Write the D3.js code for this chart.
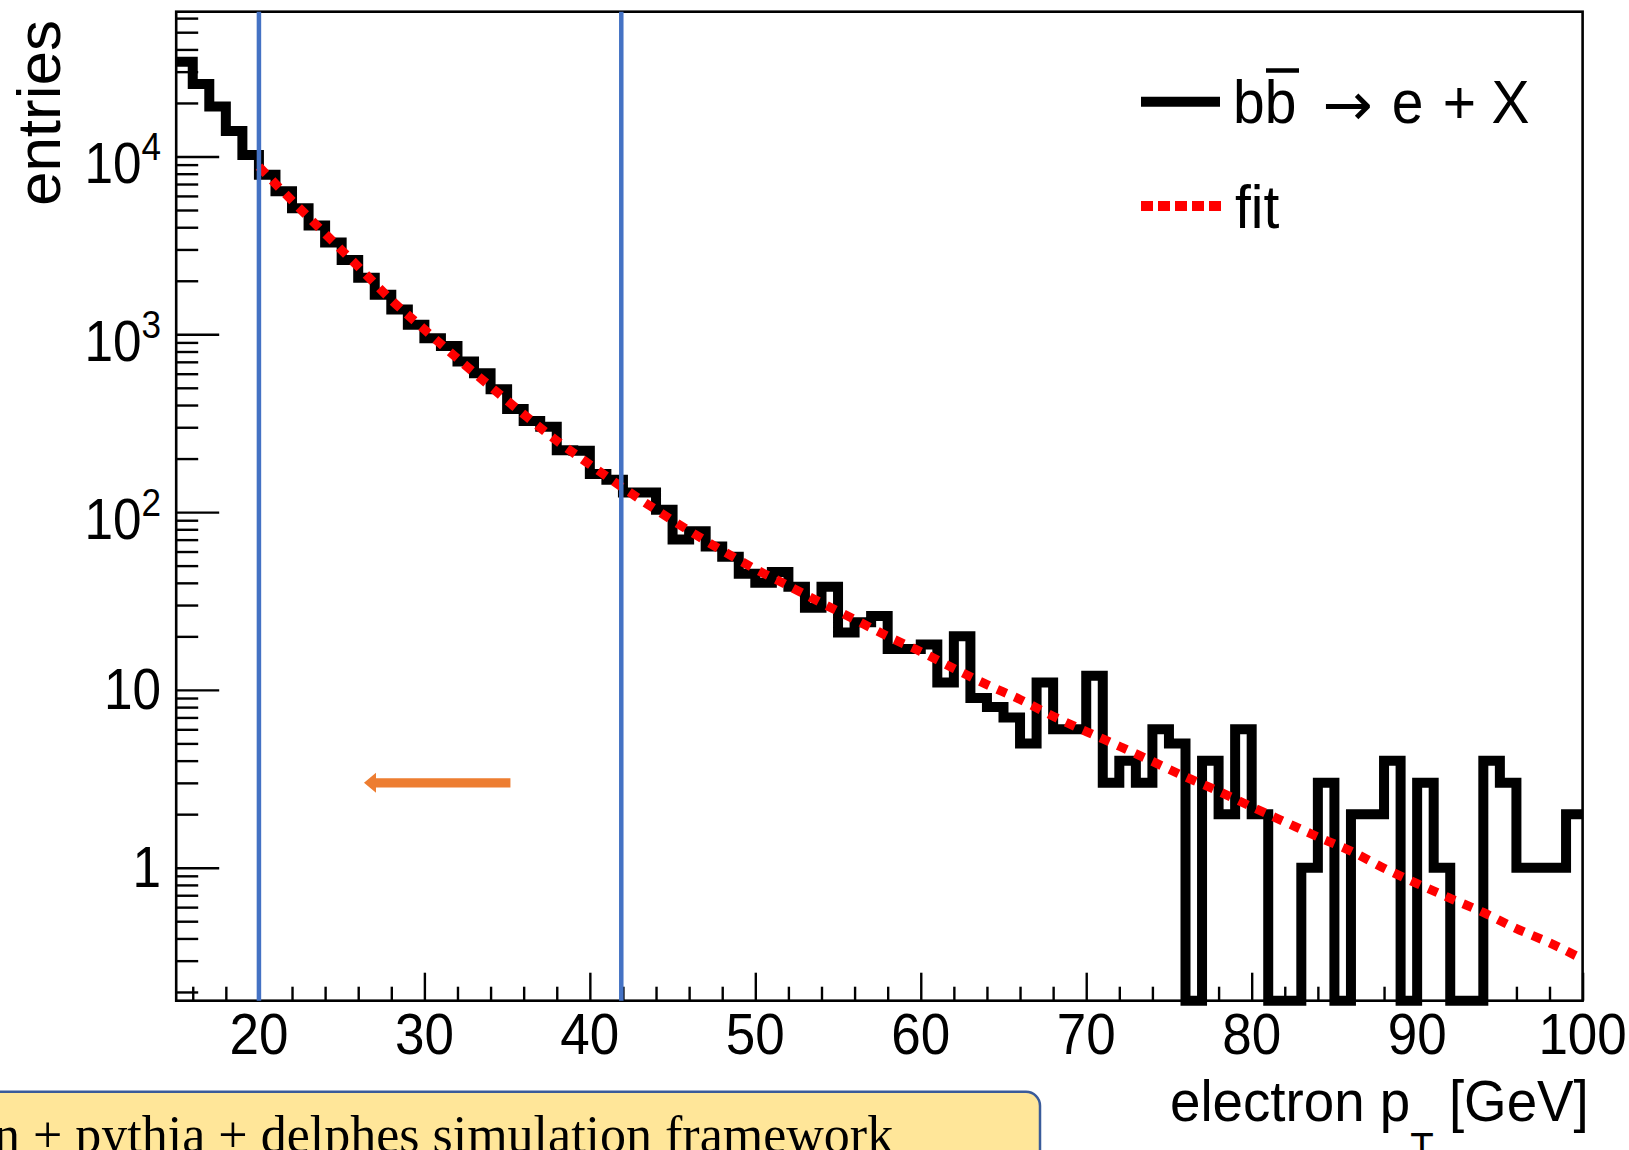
<!DOCTYPE html>
<html><head><meta charset="utf-8">
<script src="https://cdn.jsdelivr.net/npm/d3@7"></script>
<style>
html,body{margin:0;padding:0;background:#fff;}
svg{display:block;}
text{font-family:"Liberation Sans",Arial,sans-serif;fill:#000;}
</style></head>
<body>
<svg id="chart" width="1629" height="1150"></svg>
<script>
// ---------------- data ----------------
const binLowEdges = [15,16,17,18,19,20,21,22,23,24,25,26,27,28,29,30,31,32,33,34,35,36,37,38,39,40,41,42,43,44,45,46,47,48,49,50,51,52,53,54,55,56,57,58,59,60,61,62,63,64,65,66,67,68,69,70,71,72,73,74,75,76,77,78,79,80,81,82,83,84,85,86,87,88,89,90,91,92,93,94,95,96,97,98,99];
const binWidth = 1;
const binEntries = [34100,25600,19100,13900,10200,7900,6370,5110,4090,3280,2620,2080,1670,1380,1130,950,860,702,604,491,380,325,302,223,221,164,152,129,129,103,70,78,64,56,45,40,46,38,29,38,21,24,26,17,17,18,11,20,9,8,7,5,11,6,6,12,3,4,3,6,5,0,4,2,6,2,0,0,1,3,0,2,2,4,0,3,1,0,0,4,3,1,1,1,2];
const fitPt = [20,22,24,26,28,30,32,34,36,38,40,42,44,46,48,50,52,54,56,58,60,62,64,66,68,70,72,74,76,78,80,82,84,86,88,90,92,94,96,98,100];
const fitEntries = [8770,5640,3680,2400,1560,1064,731,507,355,252,185,137,103,78.5,60.8,47.8,38.5,30.8,24.9,20.0,16.4,13.2,10.7,8.83,7.11,5.83,4.82,3.96,3.24,2.69,2.20,1.81,1.49,1.24,0.993,0.813,0.673,0.560,0.454,0.378,0.306];
const cutLines = [20, 41.9];
const arrowFrom = [35.2, 3];
const arrowTo = [26.35, 3];
const xMajorTicks = [20,30,40,50,60,70,80,90,100];
const xMajorLabels = ["20","30","40","50","60","70","80","90","100"];
const xMinorTicks = [16,18,22,24,26,28,32,34,36,38,42,44,46,48,52,54,56,58,62,64,66,68,72,74,76,78,82,84,86,88,92,94,96,98];
const yMajorTicks = [1,10,100,1000,10000];
const yMajorBase = ["1","10","10","10","10"];
const yMajorExp = ["","","2","3","4"];
const yMinorTicks = [0.2,0.3,0.4,0.5,0.6,0.7,0.8,0.9,2,3,4,5,6,7,8,9,20,30,40,50,60,70,80,90,200,300,400,500,600,700,800,900,2000,3000,4000,5000,6000,7000,8000,9000,20000,30000,40000,50000,60000];
const xDomain = [15, 100];
const yDomain = [0.1786, 65200];
const yTitle = "entries";
const legendHistTokens = ["bb", "\u2192", "e", "+", "X"];
const legendFitText = "fit";
const boxText = "n + pythia + delphes simulation framework";

// ---------------- layout ----------------
const L = 176.2, R = 1582.6, T = 11.7, B = 1000.7;
const svg = d3.select("#chart");
const x = d3.scaleLinear().domain(xDomain).range([L, R]);
const y = d3.scaleLog().domain(yDomain).range([B, T]);
const yv = v => v > 0 ? y(v) : B;

function stext(g, px, py, str, size, anchor, sx) {
  return g.append("text")
    .attr("transform", `translate(${px},${py}) scale(${sx},1)`)
    .attr("text-anchor", anchor)
    .style("font-size", size + "px")
    .text(str);
}

// axes ticks
function styleAxis(g) {
  g.select(".domain").remove();
  g.selectAll("line").attr("stroke", "#000").attr("stroke-width", 2.4);
  g.selectAll("text").remove();
}
svg.append("g").attr("transform", `translate(${L},0)`)
  .call(d3.axisLeft(y).tickValues(yMinorTicks).tickSizeInner(-22).tickSizeOuter(0).tickFormat(""))
  .call(styleAxis);
svg.append("g").attr("transform", `translate(${L},0)`)
  .call(d3.axisLeft(y).tickValues(yMajorTicks).tickSizeInner(-43).tickSizeOuter(0).tickFormat(""))
  .call(styleAxis);
svg.append("g").attr("transform", `translate(0,${B})`)
  .call(d3.axisBottom(x).tickValues(xMinorTicks).tickSizeInner(-14).tickSizeOuter(0).tickFormat(""))
  .call(styleAxis);
svg.append("g").attr("transform", `translate(0,${B})`)
  .call(d3.axisBottom(x).tickValues(xMajorTicks).tickSizeInner(-28).tickSizeOuter(0).tickFormat(""))
  .call(styleAxis);

// frame
svg.append("rect").attr("x", L).attr("y", T).attr("width", R - L).attr("height", B - T)
  .attr("fill", "none").attr("stroke", "#000").attr("stroke-width", 2.6);

// histogram
const histPts = binLowEdges.map((lo, i) => [lo, binEntries[i]]);
histPts.push([binLowEdges[binLowEdges.length - 1] + binWidth, binEntries[binEntries.length - 1]]);
const histLine = d3.line().x(d => x(d[0])).y(d => yv(d[1])).curve(d3.curveStepAfter);
svg.append("path").attr("d", histLine(histPts))
  .attr("fill", "none").attr("stroke", "#000").attr("stroke-width", 10)
  .attr("stroke-linejoin", "miter").attr("stroke-linecap", "butt");

// fit
const fitLine = d3.line().x(d => x(d[0])).y(d => y(d[1])).curve(d3.curveMonotoneX);
svg.append("path").attr("d", fitLine(fitPt.map((p, i) => [p, fitEntries[i]])))
  .attr("fill", "none").attr("stroke", "#ff0000").attr("stroke-width", 9)
  .attr("stroke-dasharray", "10 9").attr("stroke-linecap", "butt");

// y labels
const gy = svg.append("g");
yMajorTicks.forEach((v, i) => {
  const ty = y(v);
  const t = gy.append("text")
    .attr("transform", `translate(161,${yMajorExp[i] ? ty + 27 : ty + 19}) scale(0.9,1)`)
    .attr("text-anchor", "end").style("font-size", "57px");
  t.append("tspan").text(yMajorBase[i]);
  if (yMajorExp[i]) t.append("tspan").attr("dy", -23).style("font-size", "39px").text(yMajorExp[i]);
});
// x labels
xMajorTicks.forEach((v, i) => stext(svg, x(v), 1054, xMajorLabels[i], 57, "middle", 0.93));

// titles
svg.append("text").attr("transform", "translate(60,20) rotate(-90)")
  .attr("text-anchor", "end").style("font-size", "62px").text(yTitle);
const xt = svg.append("text").attr("transform", "translate(1170,1121) scale(0.96,1)")
  .style("font-size", "57px");
xt.append("tspan").text("electron p");
xt.append("tspan").attr("dy", 40).style("font-size", "40px").text("T");
xt.append("tspan").attr("dy", -40).text(" [GeV]");

// legend
const lg = svg.append("g");
lg.append("line").attr("x1", 1141).attr("x2", 1220).attr("y1", 101.7).attr("y2", 101.7)
  .attr("stroke", "#000").attr("stroke-width", 10);
lg.append("line").attr("x1", 1141).attr("x2", 1221).attr("y1", 206).attr("y2", 206)
  .attr("stroke", "#ff0000").attr("stroke-width", 10).attr("stroke-dasharray", "12 5");
const tokX = [1233, 1348, 1391.7, 1459.5, 1491.5];
const tokA = ["start", "middle", "start", "middle", "start"];
legendHistTokens.forEach((s, i) => {
  const t = stext(lg, tokX[i], 123, s, 62, tokA[i], 0.92);
  if (s === "\u2192") t.style("font-family", "'DejaVu Sans',sans-serif").style("font-size", "60px")
    .attr("transform", `translate(${tokX[i]},125) scale(1,1)`);
});
lg.append("line").attr("x1", 1266).attr("x2", 1299).attr("y1", 70.5).attr("y2", 70.5)
  .attr("stroke", "#000").attr("stroke-width", 4.5);
stext(lg, 1235, 228, legendFitText, 62, "start", 0.92);

// cut lines (slide overlay)
cutLines.forEach(v => svg.append("line").attr("x1", x(v)).attr("x2", x(v)).attr("y1", T).attr("y2", B)
  .attr("stroke", "#4472c4").attr("stroke-width", 4.5));

// orange arrow
{
  const x0 = x(arrowFrom[0]), x1 = x(arrowTo[0]), ya = y(arrowTo[1]);
  const hl = 12, hw = 10, sw = 4.6;
  svg.append("path")
    .attr("d", `M${x1},${ya} L${x1 + hl},${ya - hw} L${x1 + hl},${ya - sw} L${x0},${ya - sw} L${x0},${ya + sw} L${x1 + hl},${ya + sw} L${x1 + hl},${ya + hw} Z`)
    .attr("fill", "#ed7d31");
}

// bottom text box (slide overlay)
svg.append("rect").attr("x", -30).attr("y", 1091.7).attr("width", 1070).attr("height", 120).attr("rx", 14)
  .attr("fill", "#ffe699").attr("stroke", "#3a5b9a").attr("stroke-width", 2.5);
svg.append("text").attr("x", -6).attr("y", 1152)
  .style("font-family", "'Liberation Serif','Times New Roman',serif").style("font-size", "52px").text(boxText);
</script>
</body></html>
